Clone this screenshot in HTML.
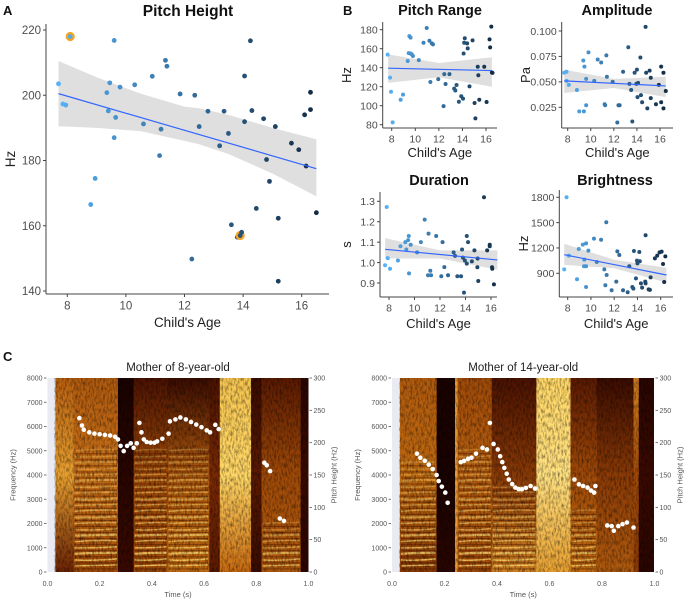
<!DOCTYPE html>
<html><head><meta charset="utf-8"><style>
body{margin:0;background:#fff}
svg{display:block;font-family:"Liberation Sans",Arial,sans-serif}
</style></head><body>
<svg id="fig" width="685" height="600" viewBox="0 0 685 600">
<defs>
<filter id="noise" x="0" y="0" width="100%" height="100%"><feTurbulence type="fractalNoise" baseFrequency="0.55 0.22" numOctaves="3" seed="3"/><feColorMatrix type="matrix" values="0 0 0 0 0  0 0 0 0 0  0 0 0 0 0  0 0 0 -2 1.2"/></filter>
<clipPath id="clipL"><rect x="54" y="378" width="254.5" height="194"/></clipPath>
<clipPath id="clipR"><rect x="399" y="378" width="255" height="194"/></clipPath>
</defs>
<g id="root"></g>
</svg>
<script>
// ---------- Panel A data ----------
const ageA=[7.7,7.85,7.95,8.1,8.8,8.95,9.35,9.4,9.45,9.6,9.6,9.65,9.8,10.3,10.6,10.9,11.15,11.2,11.35,11.4,11.85,12.25,12.35,12.5,12.8,13.2,13.35,13.5,13.6,13.8,13.9,13.95,14.05,14.05,14.25,14.3,14.45,14.7,14.8,14.9,15.1,15.2,15.2,15.65,15.9,16.1,16.15,16.3,16.3,16.5];
const hzA=[203.5,197.3,197,218,166.5,174.5,200.8,195.2,203.8,187,216.8,193.2,202.5,203.2,191.2,205.8,181.5,189.6,210.7,208.9,200.4,149.8,200,190.4,195.1,184.5,195.1,188.3,160.3,156.5,157,158,205.9,191.9,216.7,195.3,165.3,192.8,180.3,173.6,190.4,162.3,143,185.3,183.3,194,178.3,195.6,200.9,164];
const highlightA=[3,30];
const fitA=[200.5,177.5];
const bandXA=[7.7,9,10.5,12,12.5,13.5,15,16.5];
const bandLoA=[190.5,190,189,186,185,182,176,169];
const bandHiA=[210.5,205.5,200.5,196.5,196,194,190,186.5];
const ticksYA=[140,160,180,200,220];
const ticksX=[8,10,12,14,16];
// ---------- Panel B data ----------
const agePR=[7.66,7.86,7.94,8.08,8.76,8.96,9.36,9.44,9.5,9.6,9.6,9.7,9.8,10.3,10.7,10.97,11.2,11.28,11.4,11.5,11.95,12.4,12.57,12.46,12.9,13.3,13.4,13.5,13.7,13.9,14.05,14.1,14.2,14.15,14.4,14.45,14.6,14.86,15.03,15.1,15.3,15.35,15.43,15.85,16.05,16.3,16.35,16.45,16.5,16.55];
const valPR=[153.7,129.5,114.7,82.5,106.3,111.6,147,155.4,173.3,171.6,155,154,152.3,148,166.3,181.8,168.4,125,165.6,164.6,128,99.6,122.8,133.3,133.3,118,116,121.8,104.2,110,107.4,155,171,166.3,165.6,160.4,120.4,168.8,102.8,86.7,141,132,106.3,141,103.9,169.8,161.4,183.2,135,134.6];
const ageAmp=[7.7,7.9,8.1,7.9,8.8,9.0,9.4,9.35,9.45,9.6,9.6,9.8,10.3,10.6,10.9,11.2,11.25,11.35,11.4,11.9,12.3,12.4,12.5,12.8,13.25,13.35,13.5,13.6,13.8,13.95,14.0,14.05,14.1,14.3,14.35,14.45,14.75,14.8,14.9,15.1,15.2,15.2,15.65,15.9,16.1,16.1,16.3,16.3,16.5];
const valAmp=[0.059,0.060,0.047,0.051,0.042,0.021,0.021,0.071,0.065,0.053,0.027,0.079,0.051,0.072,0.069,0.028,0.027,0.076,0.055,0.050,0.010,0.027,0.027,0.060,0.084,0.048,0.042,0.011,0.059,0.048,0.062,0.035,0.049,0.074,0.037,0.030,0.104,0.059,0.024,0.061,0.034,0.054,0.028,0.047,0.065,0.030,0.059,0.024,0.041];
const ageDur=[7.69,7.82,7.9,8.08,8.7,8.9,9.28,9.36,9.5,9.55,9.57,9.7,10.2,10.5,10.8,11.06,11.1,11.24,11.3,11.7,12.1,12.2,12.34,12.63,13.07,13.18,13.36,13.65,13.73,13.8,13.88,14.1,14.1,14.2,13.95,14.5,14.7,14.93,15.0,14.95,15.45,15.7,15.9,15.9,16.08,16.1,16.23];
const valDur=[0.987,1.272,1.022,0.97,1.01,1.08,1.10,1.064,1.11,1.13,0.947,1.087,1.05,1.10,1.21,0.938,1.142,0.96,0.938,1.13,0.933,1.10,0.978,0.938,1.05,1.033,0.933,0.933,1.064,1.024,0.853,0.995,1.13,1.10,1.01,1.006,1.06,0.977,0.91,1.02,1.32,1.06,1.087,1.08,0.977,0.97,0.893];
const ageBri=[7.7,7.9,8.1,8.8,8.95,9.3,9.43,9.58,9.4,9.58,9.58,9.78,10.26,10.5,10.87,11.15,11.24,11.32,11.35,11.78,12.18,12.27,12.44,12.76,13.16,13.3,13.56,13.65,13.7,13.87,13.96,14.0,14.16,14.2,14.3,14.4,14.7,14.67,14.7,14.96,15.07,15.13,15.5,15.7,15.9,16.08,16.2,16.3,16.4];
const valBri=[947,1800,1109,829,1188,1240,1062,1255,983,983,738,1168,1310,1034,1297,947,758,1504,880,699,801,1160,1117,699,675,983,738,718,1164,840,1050,1018,1152,1042,781,730,1350,801,781,710,703,852,1077,1109,1148,1156,1010,797,1101];
const fitPR=[139.5,137],bandLoPR=[124,130,120],bandHiPR=[154,145,151];
const fitAmp=[0.051,0.046],bandLoAmp=[0.039,0.044,0.035],bandHiAmp=[0.062,0.053,0.055];
const fitDur=[1.065,1.013],bandLoDur=[1.02,1.02,0.965],bandHiDur=[1.12,1.06,1.06];
const fitBri=[1120,880],bandLoBri=[1000,960,790],bandHiBri=[1250,1060,965];
const ticksPR=[80,100,120,140,160,180],ticksAmp=[0.025,0.050,0.075,0.100],ticksDur=[0.9,1.0,1.1,1.2,1.3],ticksBri=[900,1200,1500,1800];
// ---------- Panel C data ----------
const pitchTimeL=[0.122,0.132,0.139,0.16,0.18,0.2,0.22,0.24,0.259,0.27,0.28,0.292,0.305,0.319,0.33,0.342,0.352,0.36,0.369,0.38,0.395,0.41,0.42,0.44,0.464,0.469,0.49,0.509,0.53,0.55,0.57,0.59,0.61,0.623,0.643,0.656,0.831,0.84,0.853,0.89,0.906];
const pitchHzL=[238,226.5,220,216,214,213,212,211,209,205,195,187,195,199,192,199,230.6,216,205,201,200,200,202,206,214,233,236,239,236,232,228,224,219,216,227.6,221,169,165,156,82.7,79];
const pitchTimeR=[0.095,0.108,0.125,0.14,0.155,0.17,0.178,0.19,0.203,0.212,0.262,0.275,0.29,0.303,0.32,0.345,0.362,0.373,0.387,0.403,0.412,0.42,0.428,0.437,0.445,0.458,0.47,0.483,0.495,0.51,0.528,0.545,0.695,0.712,0.728,0.745,0.758,0.77,0.775,0.82,0.837,0.845,0.862,0.878,0.895,0.92];
const pitchHzR=[183,176.7,172,166,159,150,140.7,132,122.8,107,170,172,175,176.7,183,192,189.5,230.6,198,189.5,179,170,161,152,143,136,130.5,128,128,130,133,129,143,135.6,133,130.5,126,122.8,133,72,71,63.7,71,74,76.5,68.8];
const segT0L=[0.03,0.10,0.27,0.33,0.46,0.62,0.66,0.78,0.82,0.97];
const segT1L=[0.10,0.27,0.33,0.46,0.62,0.66,0.78,0.82,0.97,1.0];
const segColL=[['#b85f10','#e8a030','#6a2204'],['#b05a0e','#c87018','#a04a08'],['#1a0300','#2a0600','#3a0a00'],['#4a1202','#a04a08','#a04a08'],['#3a0c01','#b05a0e','#c06a10'],['#4a1202','#7a2a05','#5a1a02'],['#f5c450','#ffd766','#c86a10'],['#3a0c01','#5a1a02','#3a0c01'],['#5a1a02','#a04a08','#b05a0e'],['#2a0600','#3a0a00','#2a0600']];
const segHarmL=[0,5000,0,5000,5000,0,0,0,2000,0];
const segT0R=[0.03,0.17,0.24,0.25,0.38,0.55,0.68,0.78,0.92,0.94];
const segT1R=[0.17,0.24,0.25,0.38,0.55,0.68,0.78,0.92,0.94,1.0];
const segColR=[['#b05a0e','#c06a10','#8a3a06'],['#1a0300','#1a0300','#2a0600'],['#e89a30','#e89a30','#e89a30'],['#a04a08','#b86010','#a04a08'],['#4a1202','#8a3a06','#d08020'],['#ffd766','#ffe080','#e8a030'],['#5a1a02','#a04a08','#c06a10'],['#3a0c01','#8a3a06','#b05a0e'],['#d08020','#a04a08','#8a3a06'],['#2a0600','#3a0a00','#2a0600']];
const segHarmR=[4500,0,0,5000,3500,0,2500,0,0,0];
const freqTicks=[0,1000,2000,3000,4000,5000,6000,7000,8000];
const pitchTicks=[0,50,100,150,200,250,300];
const timeTicks=[0,0.2,0.4,0.6,0.8,1.0];

const NS='http://www.w3.org/2000/svg';
const root=document.getElementById('root');
function mk(tag,attrs,parent){const e=document.createElementNS(NS,tag);for(const k in attrs)e.setAttribute(k,attrs[k]);(parent||root).appendChild(e);return e;}
function txt(s,attrs,parent){const e=mk('text',attrs,parent);e.textContent=s;return e;}
function lin(d0,d1,r0,r1){return v=>r0+(v-d0)*(r1-r0)/(d1-d0);}
function ageColor(a){const t=Math.max(0,Math.min(1,(a-7.7)/(16.5-7.7)));const c0=[86,177,247],c1=[19,43,67];return 'rgb('+c0.map((c,i)=>Math.round(c+(c1[i]-c)*t)).join(',')+')';}

function scatter(cfg){
  const g=mk('g',{});
  
  
  const X=lin(8,16,cfg.x8,cfg.x16), Y=lin(cfg.yt[0],cfg.yt[1],cfg.yp[0],cfg.yp[1]);
  let pts=[];cfg.bx.forEach((x,i)=>pts.push(X(x)+','+Y(cfg.bhi[i])));
  for(let i=cfg.bx.length-1;i>=0;i--)pts.push(X(cfg.bx[i])+','+Y(cfg.blo[i]));
  const band=mk('polygon',{points:pts.join(' '),fill:'#d9d9d9','fill-opacity':0.85},g);
  
  
  cfg.ages.forEach((a,i)=>{
    if(cfg.hl&&cfg.hl.includes(i)){const h=mk('circle',{cx:X(a),cy:Y(cfg.vals[i]),r:cfg.r+2.2,fill:'#F5A623'},g);}
    const c=mk('circle',{cx:X(a),cy:Y(cfg.vals[i]),r:cfg.r,fill:ageColor(a)},g);
    
    
  });
  const bx0=cfg.bx[0],bx1=cfg.bx[cfg.bx.length-1];
  const fl=mk('line',{x1:X(bx0),y1:Y(cfg.fit[0]),x2:X(bx1),y2:Y(cfg.fit[1]),stroke:'#3366FF','stroke-width':1.2},g);
  
  
  const ax=cfg.axisX, bot=cfg.bottom, top=cfg.top, right=cfg.right;
  mk('line',{x1:ax,y1:top,x2:ax,y2:bot,stroke:'#444','stroke-width':1},g);
  mk('line',{x1:ax,y1:bot,x2:right,y2:bot,stroke:'#444','stroke-width':1},g);
  cfg.yticks.forEach(t=>{const y=Y(t);mk('line',{x1:ax-3,y1:y,x2:ax,y2:y,stroke:'#444'},g);
    const l=txt(cfg.fmt?cfg.fmt(t):String(t),{x:ax-5,y:y+cfg.fs*0.36,'text-anchor':'end','font-size':cfg.fs,fill:'#4d4d4d'},g);
    });
  ticksX.forEach(t=>{const x=X(t);mk('line',{x1:x,y1:bot,x2:x,y2:bot+3,stroke:'#444'},g);
    const l=txt(String(t),{x:x,y:bot+4+cfg.fs,'text-anchor':'middle','font-size':cfg.fs,fill:'#4d4d4d'},g);
    });
  const t1=txt(cfg.title,{x:cfg.tx,y:cfg.ty,'text-anchor':'middle','font-size':cfg.tfs,'font-weight':'bold',fill:'#111'},g);
  
  const t2=txt("Child's Age",{x:(ax+right)/2,y:cfg.xly,'text-anchor':'middle','font-size':cfg.afs,fill:'#222'},g);
  
  const ym=(top+bot)/2;
  const t3=txt(cfg.ylab,{x:cfg.ylx,y:ym,'text-anchor':'middle','font-size':cfg.afs,fill:'#222',transform:'rotate(-90 '+cfg.ylx+' '+ym+')'},g);
  
}

scatter({name:'pitch-height-chart',ages:ageA,vals:hzA,hl:highlightA,fit:fitA,bx:bandXA,blo:bandLoA,bhi:bandHiA,x8:67.3,x16:301.7,yt:[220,140],yp:[30,291],axisX:46,bottom:294,top:24,right:329,yticks:ticksYA,fs:11.5,r:2.4,title:'Pitch Height',tx:188,ty:16,tfs:15.5,xly:327,afs:13.5,ylab:'Hz',ylx:15});
scatter({name:'pitch-range-chart',ages:agePR,vals:valPR,fit:fitPR,bx:[7.7,12,16.5],blo:bandLoPR,bhi:bandHiPR,x8:391.7,x16:486,yt:[180,80],yp:[29.7,124.7],axisX:382.7,bottom:128,top:22,right:497,yticks:ticksPR,fs:10.5,r:2,title:'Pitch Range',tx:440,ty:15,tfs:14.5,xly:157,afs:13,ylab:'Hz',ylx:351});
scatter({name:'amplitude-chart',ages:ageAmp,vals:valAmp,fit:fitAmp,bx:[7.7,12,16.5],blo:bandLoAmp,bhi:bandHiAmp,x8:567.7,x16:660,yt:[0.100,0.025],yp:[31,107.3],axisX:561.7,bottom:128,top:22,right:673,yticks:ticksAmp,fmt:v=>v.toFixed(3),fs:10.5,r:2,title:'Amplitude',tx:617,ty:15,tfs:14.5,xly:157,afs:13,ylab:'Pa',ylx:530});
scatter({name:'duration-chart',ages:ageDur,vals:valDur,fit:fitDur,bx:[7.7,12,16.5],blo:bandLoDur,bhi:bandHiDur,x8:389,x16:491,yt:[1.3,0.9],yp:[201.3,283],axisX:380,bottom:297,top:192,right:497,yticks:ticksDur,fmt:v=>v.toFixed(1),fs:10.5,r:2,title:'Duration',tx:439,ty:185,tfs:14.5,xly:328,afs:13,ylab:'s',ylx:351});
scatter({name:'brightness-chart',ages:ageBri,vals:valBri,fit:fitBri,bx:[7.7,12,16.5],blo:bandLoBri,bhi:bandHiBri,x8:567.7,x16:660.7,yt:[1800,900],yp:[197.3,273.3],axisX:559.3,bottom:297,top:190,right:673,yticks:ticksBri,fs:10.5,r:2,title:'Brightness',tx:615,ty:185,tfs:14.5,xly:328,afs:13,ylab:'Hz',ylx:528});

[['A',3,15],['B',343,15],['C',3,361]].forEach(p=>{const l=txt(p[0],{x:p[1],y:p[2],'font-size':13,'font-weight':'bold',fill:'#111'});});

function spectro(cfg){
  const g=mk('g',{});
  
  
  const T=lin(0,1,cfg.x0,cfg.x1), F=lin(0,8000,572,378), P=lin(0,300,572,378);
  mk('rect',{x:cfg.x0,y:378,width:T(0.03)-cfg.x0,height:194,fill:'#EAEAF2'},g);
  const sg=mk('g',{'clip-path':'url(#'+cfg.clip+')'},g);
  cfg.t0.forEach((t0,i)=>{
    const id='gr'+cfg.clip+i;
    const lg=mk('linearGradient',{id:id,x1:0,y1:0,x2:0,y2:1},document.querySelector('defs'));
    mk('stop',{offset:0,'stop-color':cfg.cols[i][0]},lg);mk('stop',{offset:0.5,'stop-color':cfg.cols[i][1]},lg);mk('stop',{offset:1,'stop-color':cfg.cols[i][2]},lg);
    const r=mk('rect',{x:T(t0),y:378,width:T(cfg.t1[i])-T(t0)+0.5,height:194,fill:'url(#'+id+')'},sg);
    
    
    const hm=cfg.harm[i];
    if(hm>0){let k=0;for(let f=250;f<=hm;f+=250){k++;const y=F(f);const w=(k%3===0)?2.2:1.5;
      mk('path',{d:'M'+(T(t0)+1)+' '+y+' Q '+((T(t0)+T(cfg.t1[i]))/2)+' '+(y-2+((k*7)%5)*0.8)+' '+(T(cfg.t1[i])-1)+' '+(y+((k*3)%3)-1),fill:'none',stroke:'#ffd870','stroke-width':w,'stroke-opacity':0.3+0.55*(1-f/hm)},sg);
      mk('line',{x1:T(t0)+1,y1:y+3,x2:T(cfg.t1[i])-1,y2:y+3,stroke:'#3a0a00','stroke-width':1.2,'stroke-opacity':0.4},sg);}}
  });
  mk('rect',{x:cfg.x0,y:378,width:cfg.x1-cfg.x0,height:194,fill:'#2a0500',filter:'url(#noise)',opacity:0.5},sg);
  cfg.pt.forEach((t,i)=>{const c=mk('circle',{cx:T(t),cy:P(cfg.ph[i]),r:2.3,fill:'#fff'},g);});
  freqTicks.forEach(f=>{const y=F(f);mk('line',{x1:cfg.x0-3.5,y1:y,x2:cfg.x0-1,y2:y,stroke:'#555','stroke-width':0.8},g);
    const l=txt(String(f),{x:cfg.x0-5,y:y+2.5,'text-anchor':'end','font-size':7,fill:'#555'},g);});
  pitchTicks.forEach(p=>{const y=P(p);mk('line',{x1:cfg.x1+1,y1:y,x2:cfg.x1+3.5,y2:y,stroke:'#555','stroke-width':0.8},g);
    const l=txt(String(p),{x:cfg.x1+5,y:y+2.5,'font-size':7,fill:'#555'},g);});
  timeTicks.forEach(t=>{const x=T(t);const l=txt(t.toFixed(1),{x:x,y:586,'text-anchor':'middle','font-size':7,fill:'#555'},g);});
  const cx=(cfg.x0+cfg.x1)/2;
  const a=txt('Time (s)',{x:cx,y:597,'text-anchor':'middle','font-size':7.5,fill:'#555'},g);
  const fx=cfg.x0-32;
  const b=txt('Frequency (Hz)',{x:fx,y:475,'text-anchor':'middle','font-size':7.5,fill:'#555',transform:'rotate(-90 '+fx+' 475)'},g);
  const px=cfg.x1+28;
  const c=txt('Pitch Height (Hz)',{x:px,y:475,'text-anchor':'middle','font-size':7.5,fill:'#555',transform:'rotate(-90 '+px+' 475)'},g);
  const t=txt(cfg.title,{x:cx,y:371,'text-anchor':'middle','font-size':11.5,fill:'#222'},g);
}
spectro({name:'spectrogram-8-year-old',x0:47.5,x1:308.5,clip:'clipL',t0:segT0L,t1:segT1L,cols:segColL,harm:segHarmL,pt:pitchTimeL,ph:pitchHzL,title:'Mother of 8-year-old'});
spectro({name:'spectrogram-14-year-old',x0:392,x1:654.5,clip:'clipR',t0:segT0R,t1:segT1R,cols:segColR,harm:segHarmR,pt:pitchTimeR,ph:pitchHzR,title:'Mother of 14-year-old'});
</script>
</body></html>
